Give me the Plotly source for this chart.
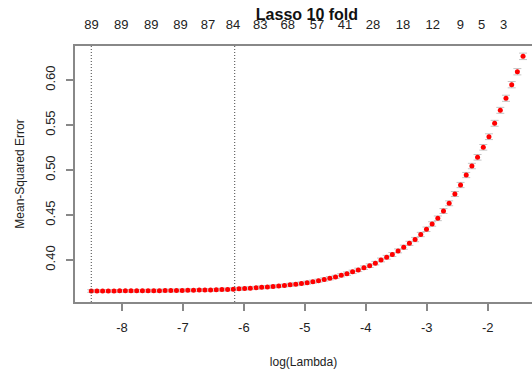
import plotly.graph_objects as go

# log(lambda) values (evenly spaced glmnet path), left to right
log_lambda = [-8.503, -8.410, -8.317, -8.224, -8.130, -8.037, -7.944, -7.851, -7.758, -7.664,
              -7.571, -7.478, -7.385, -7.292, -7.198, -7.105, -7.012, -6.919, -6.826, -6.732,
              -6.639, -6.546, -6.453, -6.360, -6.266, -6.173, -6.080, -5.987, -5.894, -5.800,
              -5.707, -5.614, -5.521, -5.428, -5.334, -5.241, -5.148, -5.055, -4.962, -4.868,
              -4.775, -4.682, -4.589, -4.496, -4.402, -4.309, -4.216, -4.123, -4.030, -3.936,
              -3.843, -3.750, -3.657, -3.564, -3.470, -3.377, -3.284, -3.191, -3.098, -3.004,
              -2.911, -2.818, -2.725, -2.632, -2.538, -2.445, -2.352, -2.259, -2.166, -2.072,
              -1.979, -1.886, -1.793, -1.700, -1.606, -1.513, -1.420]

mse = [0.3655, 0.3656, 0.3656, 0.3656, 0.3656, 0.3657, 0.3657, 0.3657, 0.3657, 0.3658,
       0.3658, 0.3659, 0.3659, 0.3660, 0.3660, 0.3661, 0.3662, 0.3663, 0.3664, 0.3665,
       0.3666, 0.3667, 0.3669, 0.3671, 0.3673, 0.3676, 0.3679, 0.3683, 0.3687, 0.3691,
       0.3696, 0.3700, 0.3706, 0.3711, 0.3717, 0.3724, 0.3731, 0.3739, 0.3748, 0.3759,
       0.3770, 0.3783, 0.3797, 0.3812, 0.3830, 0.3848, 0.3868, 0.3890, 0.3914, 0.3937,
       0.3965, 0.4000, 0.4030, 0.4061, 0.4101, 0.4142, 0.4185, 0.4227, 0.4283, 0.4341,
       0.4400, 0.4463, 0.4544, 0.4630, 0.4733, 0.4833, 0.4944, 0.5044, 0.5141, 0.5252,
       0.5370, 0.5519, 0.5663, 0.5797, 0.5948, 0.6092, 0.6263]

mse_se = [0.0015, 0.0015, 0.0015, 0.0015, 0.0015, 0.0015, 0.0015, 0.0015, 0.0015, 0.0015,
          0.0015, 0.0015, 0.0015, 0.0015, 0.0015, 0.0015, 0.0015, 0.0015, 0.0015, 0.0015,
          0.0015, 0.0015, 0.0015, 0.0015, 0.0015, 0.0016, 0.0016, 0.0016, 0.0016, 0.0016,
          0.0016, 0.0016, 0.0016, 0.0016, 0.0016, 0.0017, 0.0017, 0.0017, 0.0017, 0.0017,
          0.0017, 0.0018, 0.0018, 0.0018, 0.0018, 0.0019, 0.0019, 0.0019, 0.0020, 0.0020,
          0.0020, 0.0021, 0.0021, 0.0022, 0.0022, 0.0023, 0.0023, 0.0024, 0.0024, 0.0025,
          0.0025, 0.0026, 0.0027, 0.0027, 0.0028, 0.0029, 0.0029, 0.0030, 0.0031, 0.0031,
          0.0032, 0.0033, 0.0033, 0.0034, 0.0035, 0.0035, 0.0036]

# number of nonzero coefficients shown along the top
nz_pos = [-8.50, -8.01, -7.52, -7.04, -6.59, -6.18, -5.73, -5.28, -4.80, -4.34,
          -3.88, -3.39, -2.90, -2.45, -2.10, -1.74]
nz_labels = ["89", "89", "89", "89", "87", "84", "83", "68", "57", "41",
             "28", "18", "12", "9", "5", "3"]

x_ticks = [-8, -7, -6, -5, -4, -3, -2]
y_ticks = [0.40, 0.45, 0.50, 0.55, 0.60]

lambda_min = -8.503
lambda_1se = -6.15

x_range = [-8.77, -1.273]
y_range = [0.3533, 0.6378]

FONT = "Liberation Sans, Arial, sans-serif"
AXCOL = "#888888"

fig = go.Figure()
fig.add_trace(go.Scatter(
    x=log_lambda, y=mse, mode="markers",
    marker=dict(color="#FF0000", size=5, line=dict(width=0)),
    error_y=dict(type="data", array=mse_se, color="#C4C4C4", thickness=1, width=4),
    showlegend=False, hoverinfo="x+y",
))
# dummy trace for the top axis
fig.add_trace(go.Scatter(x=[x_range[0]], y=[y_range[0]], xaxis="x2", mode="markers",
                         marker=dict(opacity=0), showlegend=False, hoverinfo="skip"))

for xv in [lambda_min, lambda_1se]:
    fig.add_shape(type="line", x0=xv, x1=xv, y0=0, y1=1, xref="x", yref="paper",
                  line=dict(color="#444444", width=1, dash="1px,2px"))

fig.update_layout(
    width=532, height=372,
    margin=dict(l=75, r=0, t=46, b=70),
    paper_bgcolor="white", plot_bgcolor="white",
    font=dict(family=FONT, color="#222222", size=12),
    title=dict(text="<b>Lasso 10 fold</b>", x=0.577, xref="container", xanchor="center",
               y=1 - 14 / 372, yref="container", yanchor="middle",
               font=dict(size=16, family=FONT, color="#111111")),
    xaxis=dict(range=x_range, tickvals=x_ticks, ticktext=[str(v) for v in x_ticks],
               showgrid=False, zeroline=False, showline=True, linecolor=AXCOL, linewidth=1.5,
               ticks="outside", ticklen=7, tickcolor=AXCOL, tickwidth=1.5,
               tickfont=dict(size=13), ticklabelstandoff=6,
               title=dict(text="log(Lambda)", font=dict(size=12), standoff=23)),
    xaxis2=dict(range=x_range, overlaying="x", side="top", anchor="y",
                tickvals=nz_pos, ticktext=nz_labels, ticks="", showgrid=False,
                zeroline=False, showline=True, linecolor=AXCOL, linewidth=1.5,
                tickfont=dict(size=13), ticklabelstandoff=10),
    yaxis=dict(range=y_range, tickvals=y_ticks, ticktext=[f"{v:.2f}" for v in y_ticks],
               tickangle=-90, showgrid=False, zeroline=False, showline=True,
               linecolor=AXCOL, linewidth=1.5, ticks="outside", ticklen=7,
               tickcolor=AXCOL, tickwidth=1.5, tickfont=dict(size=13),
               ticklabelstandoff=6,
               title=dict(text="Mean-Squared Error", font=dict(size=12), standoff=16)),
)

fig.write_html("out.html")
